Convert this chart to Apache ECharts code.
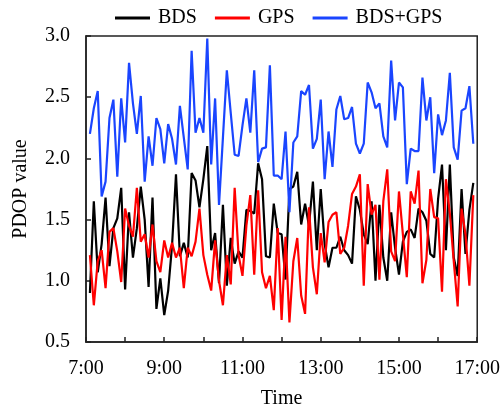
<!DOCTYPE html>
<html>
<head>
<meta charset="utf-8">
<script src="https://cdn.jsdelivr.net/npm/echarts@6/dist/echarts.min.js"></script>
<style>
html,body{margin:0;padding:0;background:#fff;}
#chart{width:503px;height:414px;}
</style>
</head>
<body>
<div id="chart"></div>
<script>
// PDOP values sampled every 6 minutes, 7:06 ... 16:54
const seriesNames = ['BDS', 'GPS', 'BDS+GPS'];
const bds = [0.90,1.65,1.07,1.30,1.68,1.12,1.43,1.51,1.76,0.93,1.56,1.19,1.43,1.77,1.50,0.95,1.68,0.77,1.02,0.72,
  0.92,1.29,1.87,1.20,1.31,1.19,1.88,1.82,1.60,1.83,2.10,1.25,1.39,0.98,1.62,0.96,1.35,1.14,1.24,1.19,
  1.58,1.57,1.55,1.96,1.83,1.20,1.19,1.63,1.39,1.38,1.01,1.75,1.77,1.89,1.46,1.63,1.45,1.81,1.25,1.75,
  1.30,1.11,1.27,1.27,1.36,1.25,1.21,1.14,1.69,1.58,1.38,1.30,1.65,1.00,1.62,1.19,1.00,1.56,1.27,1.05,
  1.32,1.40,1.42,1.35,1.59,1.56,1.49,1.22,1.19,1.67,1.95,1.25,1.95,1.19,1.04,1.75,1.22,1.58,1.80];
const gps = [1.21,0.80,1.16,1.25,0.94,1.40,1.43,1.24,0.99,1.59,1.45,1.36,1.76,1.32,1.38,1.19,1.46,1.16,1.07,1.33,
  1.19,1.31,1.19,1.27,0.94,1.27,1.20,1.32,1.59,1.21,1.05,0.92,1.33,1.00,0.80,1.21,0.97,1.76,1.21,1.04,
  1.45,1.70,1.05,1.74,1.07,0.94,1.04,0.76,1.43,0.68,1.36,0.66,1.16,1.35,0.88,0.73,1.60,1.11,0.89,1.39,
  1.15,1.48,1.54,1.56,1.22,1.27,1.45,1.71,1.77,1.87,0.96,1.79,1.54,1.62,1.01,1.65,1.91,1.24,1.16,1.73,
  1.38,1.03,1.73,1.63,1.90,0.98,1.17,1.75,1.52,1.51,0.91,1.83,1.55,1.16,0.79,1.59,1.38,0.96,1.70];
const bdsGps = [2.20,2.41,2.55,1.69,1.81,2.33,2.48,1.85,2.49,2.13,2.78,2.45,2.20,2.51,1.81,2.18,1.94,2.33,2.24,1.96,
  2.28,2.16,1.95,2.43,2.17,1.91,2.88,2.21,2.33,2.21,2.98,1.95,2.49,1.62,2.17,2.72,2.37,2.03,2.02,2.27,
  2.49,2.21,2.72,1.97,2.08,2.09,2.76,1.86,1.86,1.83,2.22,1.56,2.13,2.18,2.55,2.52,2.60,2.08,2.16,2.48,
  1.83,2.22,1.93,2.40,2.51,2.32,2.33,2.42,2.12,2.04,2.12,2.62,2.54,2.41,2.45,2.18,2.09,2.80,2.31,2.62,
  2.58,1.79,2.08,2.06,2.06,2.66,2.31,2.50,1.88,2.36,2.19,2.31,2.70,2.09,1.99,2.39,2.41,2.59,2.12];
// sampling grid: hours (decimal), first sample 7:06, step 6 min
const startHour = 7, stepHours = 0.1;
const times = bds.map((_, i) => +(startHour + (i + 1) * stepHours).toFixed(2));
const xTicks = [7, 9, 11, 13, 15, 17];

const font = 'Liberation Serif, Times New Roman, serif';
const colors = ['#000000', '#ff0000', '#1a45ff'];
const pair = arr => arr.map((v, i) => [times[i], v]);

const chart = echarts.init(document.getElementById('chart'), null, {renderer: 'canvas'});
chart.setOption({
  animation: false,
  textStyle: {fontFamily: font, color: '#000'},
  legend: {
    top: 8, left: 115, padding: 0,
    icon: 'rect',
    itemWidth: 35, itemHeight: 3, itemGap: 18,
    textStyle: {fontFamily: font, fontSize: 20, color: '#000', padding: [0, 0, 0, 3]},
    data: seriesNames
  },
  grid: {left: 86, right: 25, top: 36, bottom: 69, show: true, borderColor: '#222', borderWidth: 1.5, backgroundColor: 'transparent'},
  xAxis: {
    type: 'value', min: 7, max: 17, interval: 1,
    name: 'Time', nameLocation: 'middle', nameGap: 47,
    nameTextStyle: {fontFamily: font, fontSize: 20, color: '#000'},
    axisLine: {show: true, lineStyle: {color: '#222', width: 1.5}},
    axisTick: {show: true, inside: true, length: 5, lineStyle: {color: '#222', width: 1.5}},
    axisLabel: {margin: 17, fontFamily: font, fontSize: 20, color: '#000',
      formatter: v => xTicks.indexOf(v) >= 0 ? v + ':00' : ''},
    splitLine: {show: false}
  },
  yAxis: {
    type: 'value', min: 0.5, max: 3.0, interval: 0.5,
    name: 'PDOP value', nameLocation: 'middle', nameGap: 55,
    nameTextStyle: {fontFamily: font, fontSize: 20, color: '#000'},
    axisLine: {show: true, lineStyle: {color: '#222', width: 1.5}},
    axisTick: {show: true, inside: true, length: 5, lineStyle: {color: '#222', width: 1.5}},
    axisLabel: {margin: 16, fontFamily: font, fontSize: 20, color: '#000', formatter: v => v.toFixed(1)},
    splitLine: {show: false}
  },
  series: [
    {name: seriesNames[0], type: 'line', data: pair(bds), showSymbol: false, symbol: 'none', color: colors[0], lineStyle: {width: 2.2, color: colors[0]}},
    {name: seriesNames[1], type: 'line', data: pair(gps), showSymbol: false, symbol: 'none', color: colors[1], lineStyle: {width: 2.2, color: colors[1]}},
    {name: seriesNames[2], type: 'line', data: pair(bdsGps), showSymbol: false, symbol: 'none', color: colors[2], lineStyle: {width: 2.2, color: colors[2]}}
  ]
});
</script>
</body>
</html>
